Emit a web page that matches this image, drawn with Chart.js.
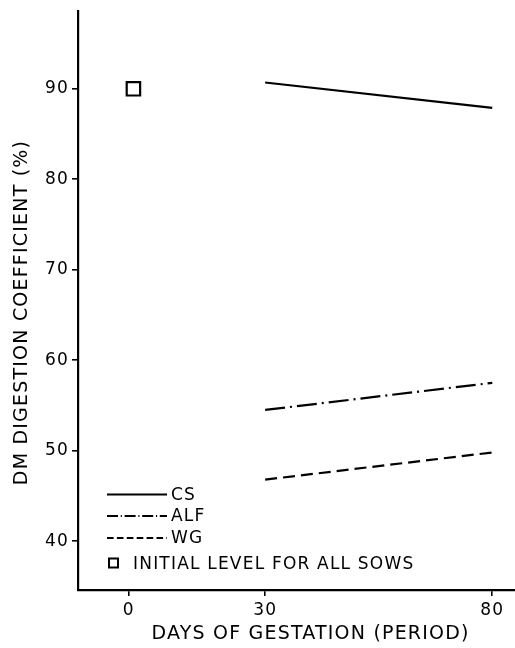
<!DOCTYPE html>
<html><head><meta charset="utf-8">
<script src="https://cdn.jsdelivr.net/npm/chart.js@4.4.1/dist/chart.umd.min.js"></script>
<style>html,body{margin:0;padding:0;background:#fff;overflow:hidden;}canvas{display:block;}</style>
</head><body><canvas id="c" width="515" height="648" style="width:515px;height:648px;"></canvas>
<script>
// ---- data ----
const days = [30, 80];
const csValues = [90.7, 87.9];
const alfValues = [54.5, 57.5];
const wgValues = [46.8, 49.8];
const initialDay = [1];
const initialValue = [90.0];
const xTicks = [0, 30, 80];
const yTicks = [40, 50, 60, 70, 80, 90];
const seriesNames = ['CS', 'ALF', 'WG'];
const initialLabel = 'INITIAL LEVEL FOR ALL SOWS';
const xTitle = 'DAYS OF GESTATION (PERIOD)';
const yTitle = 'DM DIGESTION COEFFICIENT (%)';

const FONT = '"DejaVu Sans", sans-serif';
const pts = (xs, ys) => xs.map((x, i) => ({x: x, y: ys[i]}));

const lineStyle = (name, vals, dash) => ({
  label: name, data: pts(days, vals), showLine: true,
  borderColor: '#000', borderWidth: 2.2, borderDash: dash,
  pointRadius: 0, fill: false, tension: 0
});

const datasets = [
  lineStyle(seriesNames[0], csValues, []),
  lineStyle(seriesNames[1], alfValues, [20, 5, 2, 5]),
  lineStyle(seriesNames[2], wgValues, [12, 6]),
  {
    label: initialLabel, data: pts(initialDay, initialValue), showLine: false,
    pointStyle: 'rect', pointRadius: 9.5, borderWidth: 2.2,
    borderColor: '#000', backgroundColor: '#fff'
  }
];

const spacingPlugin = {
  id: 'spacing',
  beforeDraw(chart) { chart.ctx.letterSpacing = '1.2px'; }
};

const decorPlugin = {
  id: 'decor',
  afterDraw(chart) {
    const ctx = chart.ctx, ca = chart.chartArea;
    const xs = chart.scales.x;
    ctx.save();
    ctx.letterSpacing = '1.2px';
    ctx.fillStyle = '#000';
    ctx.strokeStyle = '#000';
    // legend
    ctx.font = '17px ' + FONT;
    ctx.textBaseline = 'middle';
    ctx.textAlign = 'left';
    const rows = [ca.bottom - 95.5, ca.bottom - 74, ca.bottom - 52];
    for (let i = 0; i < 3; i++) {
      const ds = chart.data.datasets[i];
      ctx.beginPath();
      ctx.setLineDash(ds.borderDash.length ? ds.borderDash.map(v => v * 0.55) : []);
      ctx.lineWidth = 2;
      ctx.moveTo(ca.left + 29, rows[i]);
      ctx.lineTo(ca.left + 89, rows[i]);
      ctx.stroke();
      ctx.setLineDash([]);
      ctx.fillText(ds.label, ca.left + 93, rows[i] + 1);
    }
    const sy = ca.bottom - 27;
    ctx.lineWidth = 2;
    ctx.strokeRect(ca.left + 31, sy - 4.5, 9, 9);
    ctx.fillText(initialLabel, ca.left + 55, sy + 1.5);
    // axis titles
    ctx.font = '19px ' + FONT;
    ctx.textAlign = 'center';
    const cx = (xs.getPixelForValue(xTicks[0]) + xs.getPixelForValue(xTicks[xTicks.length - 1])) / 2;
    ctx.fillText(xTitle, cx, ca.bottom + 44);
    ctx.translate(22, (ca.top + ca.bottom) / 2 + 12);
    ctx.rotate(-Math.PI / 2);
    ctx.fillText(yTitle, 0, 0);
    ctx.restore();
  }
};

const axisCommon = {
  grid: {drawOnChartArea: false, drawTicks: true, tickLength: 6, color: '#000', lineWidth: 1.6},
  border: {display: true, color: '#000', width: 2.2},
  title: {display: false}
};

new Chart(document.getElementById('c'), {
  type: 'scatter',
  data: {datasets: datasets},
  plugins: [spacingPlugin, decorPlugin],
  options: {
    responsive: false, animation: false, devicePixelRatio: 1,
    layout: {autoPadding: false, padding: {top: 11, right: 0, left: 0, bottom: 0}},
    plugins: {legend: {display: false}, tooltip: {enabled: false}},
    scales: {
      x: Object.assign({}, axisCommon, {
        type: 'linear', min: -11.2, max: 85,
        afterBuildTicks: s => { s.ticks = xTicks.map(v => ({value: v})); },
        afterFit: s => { s.height = 58; s.paddingLeft = 0; s.paddingRight = 0; },
        ticks: {color: '#000', font: {family: FONT, size: 17}, padding: 4, maxRotation: 0, autoSkip: false}
      }),
      y: Object.assign({}, axisCommon, {
        type: 'linear', min: 34.6, max: 98.6,
        afterBuildTicks: s => { s.ticks = yTicks.map(v => ({value: v})); },
        afterFit: s => { s.width = 78; s.paddingTop = 0; s.paddingBottom = 0; },
        ticks: {color: '#000', font: {family: FONT, size: 17}, padding: 3, autoSkip: false}
      })
    }
  }
});
</script>
</body></html>
